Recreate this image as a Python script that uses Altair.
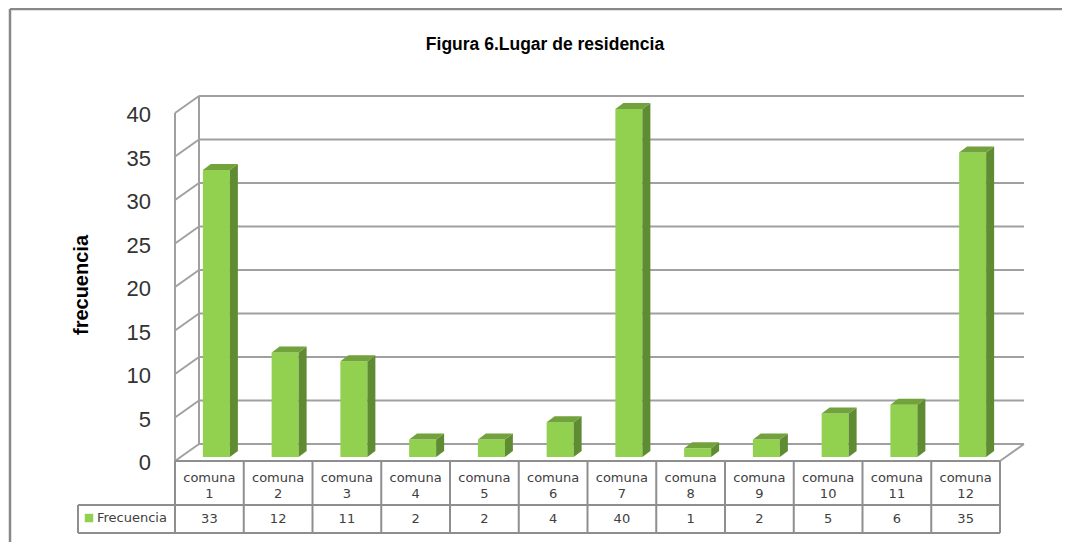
import altair as alt
import pandas as pd

# ---------------- data ----------------
categories = ["comuna 1", "comuna 2", "comuna 3", "comuna 4", "comuna 5", "comuna 6",
              "comuna 7", "comuna 8", "comuna 9", "comuna 10", "comuna 11", "comuna 12"]
values = [33, 12, 11, 2, 2, 4, 40, 1, 2, 5, 6, 35]
y_ticks = [0, 5, 10, 15, 20, 25, 30, 35, 40]
series_name = "Frecuencia"
chart_title = "Figura 6.Lugar de residencia"
y_title = "frecuencia"

# ---------------- layout (pixel geometry of the page) ----------------
PXU = 68.75      # px per category column
PXV = 8.7        # px per value unit
X0, Y0 = 175, 461  # page position of front-left floor corner
W, H = 1054, 534


def u(px):
    return (px - X0) / PXU


def v(py):
    return (Y0 - py) / PXV


BX, BY = 24 / PXU, 17 / PXV          # depth of the 3D box
FL, FR = -6.5 / PXU, 20.5 / PXU      # bar front face relative to column centre
DB = 4 / PXV                         # bar bottom lift
SX, SY = 8 / PXU, 6 / PXV            # bar depth
N = len(categories)
vmax = max(y_ticks)

xs = alt.Scale(domain=[u(8), u(8 + W)], nice=False, zero=False)
ys = alt.Scale(domain=[v(8 + H), v(8)], nice=False, zero=False)


def X(f="x"):
    return alt.X(f"{f}:Q", scale=xs, axis=None)


def Y(f="y"):
    return alt.Y(f"{f}:Q", scale=ys, axis=None)


# ---------------- line segments ----------------
segs = []


def seg(x, y, x2, y2, c, w):
    segs.append(dict(x=x, y=y, x2=x2, y2=y2, c=c, w=w))


GRID = "#A0A0A0"
TAB = "#8E8E8E"
# outer chart border
seg(u(10), v(9), u(8 + W), v(9), "#888888", 2.5)
seg(u(10), v(9), u(10), v(8 + H), "#888888", 2.5)
# left wall + back wall grid
seg(0, 0, 0, vmax, GRID, 2)
seg(BX, BY, BX, vmax + BY, GRID, 2)
for t in y_ticks:
    seg(0, t, BX, t + BY, GRID, 2)
    seg(BX, t + BY, N + BX, t + BY, GRID, 2)
seg(N, 0, N + BX, BY, GRID, 2)
# data table
v_sep, v_bot = v(505), v(533)
u_leg = u(78)
seg(0, 0, N, 0, TAB, 2)
seg(u_leg, v_sep, N, v_sep, TAB, 2)
seg(u_leg, v_bot, N, v_bot, TAB, 2)
seg(u_leg, v_bot, u_leg, v_sep, TAB, 2)
for k in range(N + 1):
    seg(k, v_bot, k, 0, TAB, 2)
seg_df = pd.DataFrame(segs)

lines = alt.Chart(seg_df).mark_rule().encode(
    x=X(), y=Y(), x2="x2:Q", y2="y2:Q",
    color=alt.Color("c:N", scale=None),
    strokeWidth=alt.StrokeWidth("w:Q", scale=None),
)

# ---------------- bars ----------------
front_rows, side_rows, top_rows = [], [], []
for i, (cat, val) in enumerate(zip(categories, values)):
    c = i + 0.5
    fl, fr = c + FL, c + FR
    front_rows.append(dict(cat=cat, x=fl, x2=fr, y=DB, y2=val + DB))
    side_rows.append(dict(cat=cat, x=fr, y=DB, y2=val + DB))
    side_rows.append(dict(cat=cat, x=fr + SX, y=DB + SY, y2=val + DB + SY))
    top_rows.append(dict(cat=cat, y=val + DB, x=fl, x2=fr))
    top_rows.append(dict(cat=cat, y=val + DB + SY, x=fl + SX, x2=fr + SX))

front = alt.Chart(pd.DataFrame(front_rows)).mark_rect(color="#92D050").encode(
    x=X(), x2="x2:Q", y=Y(), y2="y2:Q")
side = alt.Chart(pd.DataFrame(side_rows)).mark_area(color="#5F8B32", orient="vertical").encode(
    x=X(), y=Y(), y2="y2:Q", detail="cat:N")
top = alt.Chart(pd.DataFrame(top_rows)).mark_area(color="#71A23C", orient="horizontal").encode(
    y=Y(), x=X(), x2="x2:Q", detail="cat:N")

# ---------------- texts ----------------
tick_df = pd.DataFrame(dict(t=y_ticks, x=u(151), y=[t - 2 / PXV for t in y_ticks]))
ticks = alt.Chart(tick_df).mark_text(align="right", baseline="middle", font="Liberation Sans",
                                     fontSize=22, color="#333333").encode(
    x=X(), y=Y(), text="t:Q")

cat_df = pd.DataFrame(dict(
    w=[c.split(" ")[0] for c in categories],
    n=[c.split(" ")[1] for c in categories],
    x=[i + 0.5 for i in range(N)],
    y1=v(478), y2=v(494),
))
cat_font = dict(font="DejaVu Sans", fontSize=13, color="#404040", baseline="middle", align="center")
cat_w = alt.Chart(cat_df).mark_text(**cat_font).encode(x=X(), y=Y("y1"), text="w:N")
cat_n = alt.Chart(cat_df).mark_text(**cat_font).encode(x=X(), y=Y("y2"), text="n:N")

val_df = pd.DataFrame(dict(val=values, x=[i + 0.5 for i in range(N)], y=v(519)))
val_t = alt.Chart(val_df).mark_text(**cat_font).encode(x=X(), y=Y(), text="val:Q")

leg_df = pd.DataFrame(dict(name=[series_name], xs=[u(89)], xt=[u(97)], y=[v(518)]))
leg_sq = alt.Chart(leg_df).mark_square(size=72, color="#92D050", opacity=1).encode(
    x=X("xs"), y=Y())
leg_t = alt.Chart(leg_df).mark_text(font="DejaVu Sans", fontSize=13, color="#404040",
                                    align="left", baseline="middle").encode(
    x=X("xt"), y=Y(), text="name:N")

ttl_df = pd.DataFrame(dict(t=[chart_title], yt=[y_title], x=[u(545)], y=[v(45)],
                           xa=[u(82)], ya=[v(285)]))
ttl = alt.Chart(ttl_df).mark_text(font="Liberation Sans", fontSize=17.5, fontWeight="bold",
                                  color="#000000", align="center", baseline="middle").encode(
    x=X(), y=Y(), text="t:N")
ytl = alt.Chart(ttl_df).mark_text(font="Liberation Sans", fontSize=20, fontWeight="bold",
                                  color="#000000", align="center", baseline="middle",
                                  angle=270).encode(
    x=X("xa"), y=Y("ya"), text="yt:N")

chart = alt.layer(
    lines, front, side, top, ticks, cat_w, cat_n, val_t, leg_sq, leg_t, ttl, ytl
).properties(
    width=W, height=H, padding=0, autosize=alt.AutoSizeParams(type="none"),
    background="white",
).configure_view(stroke=None)

chart.save("out.html", embed_options={"renderer": "svg", "actions": False})
